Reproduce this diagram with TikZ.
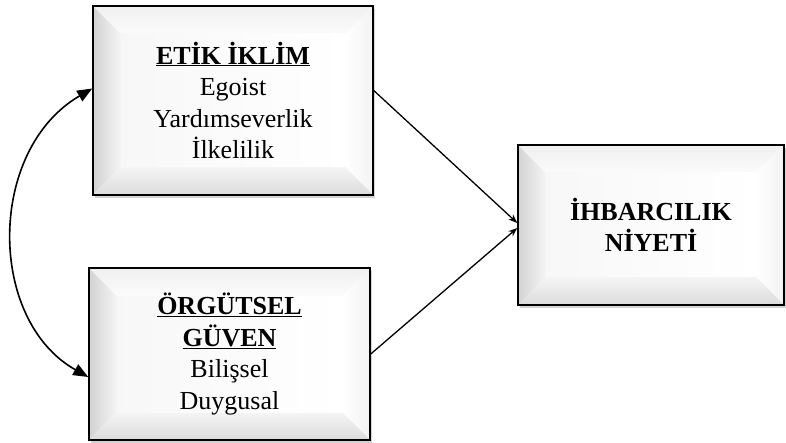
\documentclass[tikz,border=0pt]{standalone}
\usepackage{fontspec}
\setmainfont{Liberation Serif}
\usetikzlibrary{positioning,arrows.meta,shadows}

\begin{document}
\begin{tikzpicture}[x=1pt,y=-1pt,>=Stealth,
    kutu/.style={draw,rectangle,line width=1.5pt,fill=white,align=center,
      font=\fontsize{26}{31.5}\selectfont,
      drop shadow={shadow xshift=2pt,shadow yshift=-3pt,opacity=0.35},
      path picture={
        \coordinate (nw) at (path picture bounding box.north west);
        \coordinate (ne) at (path picture bounding box.north east);
        \coordinate (sw) at (path picture bounding box.south west);
        \coordinate (se) at (path picture bounding box.south east);
        \shade[left color=gray!35,right color=gray!8] (sw) -- (nw) -- ([shift={(28pt,-28pt)}]nw) -- ([shift={(28pt,28pt)}]sw) -- cycle;
        \shade[top color=gray!12,bottom color=gray!3] (nw) -- (ne) -- ([shift={(-28pt,-28pt)}]ne) -- ([shift={(28pt,-28pt)}]nw) -- cycle;
        \shade[right color=gray!10,left color=white] (ne) -- (se) -- ([shift={(-28pt,28pt)}]se) -- ([shift={(-28pt,-28pt)}]ne) -- cycle;
        \shade[bottom color=gray!28,top color=gray!8] (sw) -- (se) -- ([shift={(-28pt,28pt)}]se) -- ([shift={(28pt,28pt)}]sw) -- cycle;
        \shade[left color=gray!6,right color=white] ([shift={(28pt,-28pt)}]nw) rectangle ([shift={(-28pt,28pt)}]se);
      }},
    bag/.style={->,line width=1.3pt},
    cift/.style={{Triangle[length=15pt,width=12pt]}-{Triangle[length=15pt,width=12pt]},line width=1.6pt}]
    \useasboundingbox (0,0) rectangle (786,443);
    \node[kutu,minimum width=280pt,minimum height=189pt] (etik) at (233,100.5)
      {\underline{\textbf{ETİK İKLİM}}\\Egoist\\Yardımseverlik\\İlkelilik};
    \node[kutu,minimum width=281pt,minimum height=172pt] (guven) at (229.5,354)
      {\underline{\textbf{ÖRGÜTSEL}}\\\underline{\textbf{GÜVEN}}\\Bilişsel\\Duygusal};
    \node[kutu,minimum width=266pt,minimum height=160pt] (niyet) at (651,225)
      {\textbf{İHBARCILIK}\\\textbf{NİYETİ}};
    \draw[bag] ([yshift=10pt]etik.east) -- ([yshift=2pt]niyet.west);
    \draw[bag] (guven.east) -- ([yshift=-3pt]niyet.west);
    \draw[cift] ([yshift=12pt]etik.west) .. controls (-13,150) and (-13,320) .. ([yshift=-23pt]guven.west);
  \end{tikzpicture}
\end{document}
